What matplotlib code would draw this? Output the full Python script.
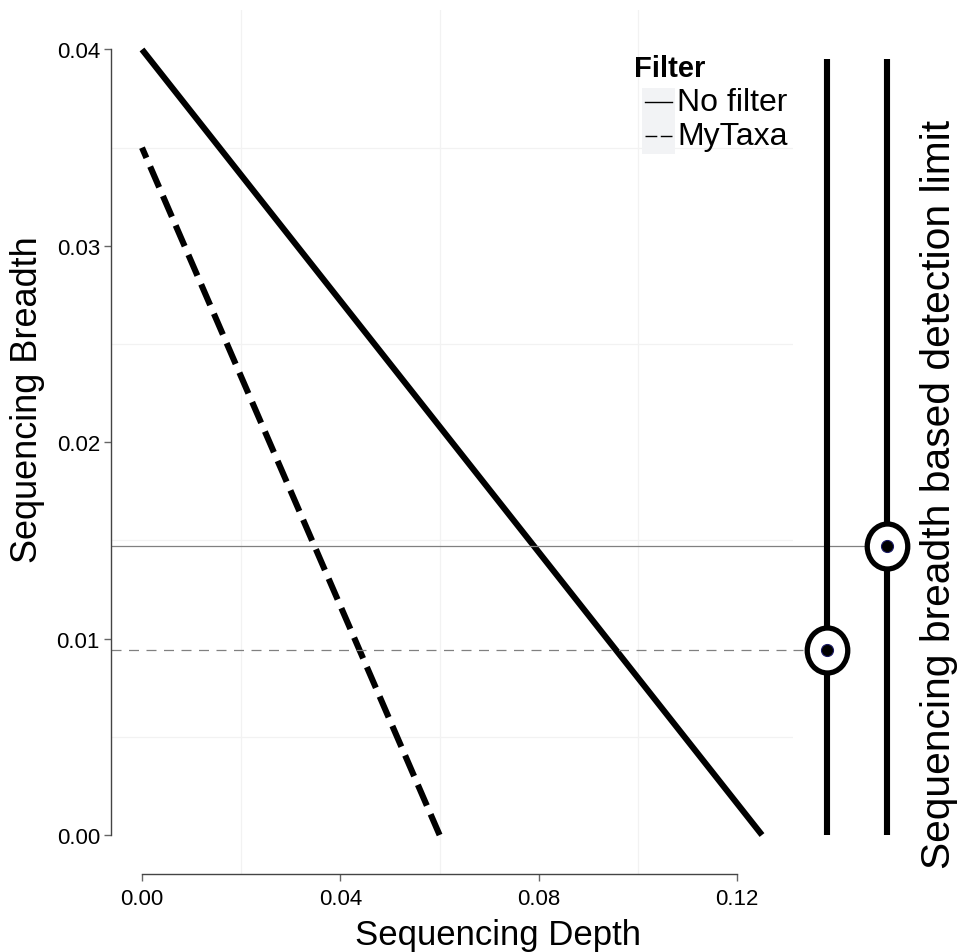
import numpy as np
import matplotlib
matplotlib.use("Agg")
import matplotlib.pyplot as plt
from matplotlib.lines import Line2D
from matplotlib.patches import Rectangle
from matplotlib.path import Path
from matplotlib.transforms import Affine2D

plt.rcParams['font.family'] = ['Liberation Sans', 'DejaVu Sans']

# data
filters = ['No filter', 'MyTaxa']
styles = ['solid', 'dashed']
# endpoints of each line: (depth, breadth)
line_depth = [[0.0, 0.125], [0.0, 0.06]]
line_breadth = [[0.04, 0.0], [0.035, 0.0]]
# detection limits (breadth) and their column in the side panel
limits = [0.0147, 0.0094]
limit_pos = [2, 1]
side_top = 0.0395

xticks = [0.00, 0.04, 0.08, 0.12]
yticks = [0.00, 0.01, 0.02, 0.03, 0.04]

W, H = 969, 953
fig = plt.figure(figsize=(W / 100, H / 100), dpi=100)


def px(l, t, r, b):
    return [l / W, 1 - b / H, (r - l) / W, (b - t) / H]


ax = fig.add_axes(px(111, 11.2, 793, 875.3))
axr = fig.add_axes(px(793, 11.2, 925, 875.3))

ylim = (-0.002, 0.042)
ax.set_xlim(-0.00625, 0.13125)
ax.set_ylim(*ylim)

ax.set_xticks(xticks)
ax.set_xticklabels(['%.2f' % v for v in xticks])
ax.set_yticks(yticks)
ax.set_yticklabels(['%.2f' % v for v in yticks])
ax.set_xticks([0.02, 0.06, 0.10], minor=True)
ax.set_yticks([0.005, 0.015, 0.025, 0.035], minor=True)
ax.grid(which='minor', color='#f2f2f2', lw=0.9)
ax.tick_params(which='minor', length=0)
ax.tick_params(which='major', length=5, width=1, color='#666666',
               labelsize=16, pad=3)
ax.tick_params(axis='x', pad=5)

for s in ['top', 'right']:
    ax.spines[s].set_visible(False)
ax.spines['left'].set_bounds(0, 0.04)
ax.spines['bottom'].set_bounds(0, 0.12)
for s in ['left', 'bottom']:
    ax.spines[s].set_color('#444444')
    ax.spines[s].set_linewidth(1)

# main lines (dashed one drawn from its bottom end so the pattern ends cleanly)
for xs, ys, st in zip(line_depth, line_breadth, styles):
    if st == 'dashed':
        ln, = ax.plot(xs[::-1], ys[::-1], color='black', lw=4.4,
                      dash_capstyle='butt')
        ln.set_dashes((3.7, 1.55))
    else:
        ax.plot(xs, ys, color='black', lw=4.4, solid_capstyle='butt')

# horizontal detection-limit lines
for lim, st in zip(limits, styles):
    ax.axhline(lim, color='#808080', lw=0.9,
               linestyle='-' if st == 'solid' else (0, (8, 6)))

# side panel
xl = (1 - 34 / 60, 1 - 34 / 60 + 132 / 60)
axr.set_xlim(*xl)
axr.set_ylim(*ylim)
axr.axis('off')
ring = Path.unit_circle().transformed(Affine2D().scale(0.9, 1.0))
for lim, pos, st in zip(limits, limit_pos, styles):
    axr.plot([xl[0], pos], [lim, lim], color='#808080', lw=0.9,
             linestyle='-' if st == 'solid' else (0, (8, 6)), zorder=1)
    axr.plot([pos, pos], [0, side_top], color='black', lw=4.4,
             solid_capstyle='butt', zorder=2)
    axr.scatter([pos], [lim], s=1050, marker=ring, facecolor='white',
                edgecolor='black', linewidth=3.8, zorder=3)
    axr.scatter([pos], [lim], s=75, facecolor='black', edgecolor='#1a1a66',
                linewidth=0.8, zorder=4)

# axis labels
fig.text(498 / W, 1 - 945 / H, 'Sequencing Depth', ha='center',
         va='baseline', fontsize=25)
fig.text(28 / W, 1 - 400 / H, 'Sequencing Breadth', ha='center',
         va='center', rotation=90, fontsize=26)
fig.text(939 / W, 1 - 494 / H, 'Sequencing breadth based detection limit',
         ha='center', va='center', rotation=90, fontsize=29.3)

# legend
fig.add_artist(Rectangle((642 / W, 1 - 155 / H), 33 / W, 66 / H,
                         transform=fig.transFigure, facecolor='#f2f3f5',
                         edgecolor='none'))
fig.text(634 / W, 1 - 69 / H, 'Filter', ha='left', va='center',
         fontsize=21, fontweight='bold')
key_y = [103, 137]
for ky, name, st in zip(key_y, filters, styles):
    kl = Line2D([645 / W, 672 / W], [1 - ky / H, 1 - ky / H],
                transform=fig.transFigure, color='black', lw=1.0)
    if st == 'dashed':
        kl.set_dashes((8.5, 2.5))
    fig.add_artist(kl)
    fig.text(677 / W, 1 - ky / H, name, ha='left', va='center', fontsize=23)

fig.savefig('out.png', dpi=100)
